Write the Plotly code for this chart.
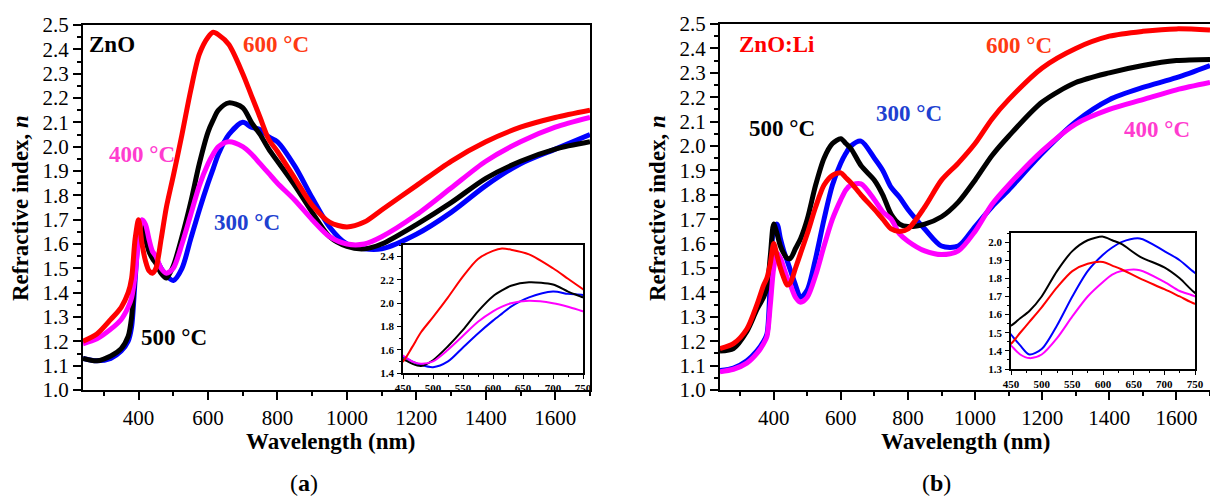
import plotly.graph_objects as go

# Wavelength grid (nm) shared by all curves
wavelength = [240, 280, 320, 350, 370, 380, 390, 400, 410, 420, 430, 440, 450, 465, 480,
              500, 525, 550, 575, 600, 615, 630, 660, 700, 725, 750, 775, 800, 850, 900,
              950, 1000, 1050, 1100, 1200, 1300, 1400, 1500, 1600, 1700]

# (a) ZnO refractive index
zno_300 = [1.13, 1.12, 1.13, 1.16, 1.20, 1.26, 1.45, 1.62, 1.66, 1.62, 1.58, 1.56, 1.54, 1.50, 1.47,
           1.45, 1.50, 1.62, 1.74, 1.85, 1.91, 1.97, 2.05, 2.10, 2.08, 2.07, 2.04, 2.02, 1.92, 1.79,
           1.67, 1.60, 1.58, 1.58, 1.64, 1.73, 1.84, 1.93, 1.99, 2.05]
zno_400 = [1.19, 1.21, 1.25, 1.29, 1.34, 1.38, 1.47, 1.62, 1.70, 1.68, 1.62, 1.57, 1.55, 1.50, 1.48,
           1.50, 1.60, 1.72, 1.84, 1.93, 1.97, 2.00, 2.02, 2.00, 1.97, 1.93, 1.89, 1.85, 1.78, 1.70,
           1.63, 1.60, 1.60, 1.63, 1.72, 1.83, 1.94, 2.02, 2.08, 2.12]
zno_500 = [1.13, 1.12, 1.14, 1.17, 1.22, 1.30, 1.50, 1.66, 1.68, 1.62, 1.57, 1.54, 1.52, 1.48, 1.46,
           1.51, 1.63, 1.77, 1.93, 2.06, 2.11, 2.15, 2.18, 2.16, 2.10, 2.05, 1.99, 1.94, 1.84, 1.73,
           1.63, 1.59, 1.58, 1.60, 1.68, 1.77, 1.87, 1.94, 1.99, 2.02]
zno_600 = [1.20, 1.23, 1.29, 1.34, 1.40, 1.46, 1.62, 1.70, 1.60, 1.53, 1.49, 1.48, 1.50, 1.62, 1.75,
           1.88, 2.05, 2.23, 2.38, 2.45, 2.47, 2.46, 2.42, 2.30, 2.21, 2.12, 2.03, 1.98, 1.87, 1.76,
           1.69, 1.67, 1.69, 1.74, 1.84, 1.94, 2.02, 2.08, 2.12, 2.15]

# (b) ZnO:Li refractive index
znoli_300 = [1.08, 1.09, 1.12, 1.16, 1.20, 1.23, 1.45, 1.66, 1.68, 1.62, 1.57, 1.53, 1.49, 1.43, 1.38,
             1.41, 1.54, 1.70, 1.84, 1.93, 1.97, 2.00, 2.02, 1.95, 1.90, 1.83, 1.79, 1.74, 1.66, 1.59,
             1.59, 1.67, 1.75, 1.82, 1.97, 2.10, 2.19, 2.24, 2.28, 2.33]
znoli_400 = [1.075, 1.085, 1.11, 1.15, 1.19, 1.22, 1.35, 1.50, 1.56, 1.54, 1.50, 1.46, 1.43, 1.38, 1.36,
             1.38, 1.47, 1.59, 1.70, 1.78, 1.82, 1.84, 1.845, 1.78, 1.73, 1.70, 1.64, 1.61, 1.57, 1.555,
             1.57, 1.65, 1.76, 1.84, 1.98, 2.09, 2.15, 2.19, 2.23, 2.26]
znoli_500 = [1.16, 1.17, 1.24, 1.33, 1.38, 1.42, 1.55, 1.68, 1.64, 1.59, 1.56, 1.54, 1.54, 1.58, 1.62,
             1.70, 1.84, 1.95, 2.01, 2.03, 2.01, 1.99, 1.92, 1.86, 1.80, 1.72, 1.68, 1.67, 1.68, 1.71,
             1.77, 1.86, 1.96, 2.04, 2.18, 2.26, 2.30, 2.33, 2.35, 2.355]
znoli_600 = [1.17, 1.19, 1.25, 1.35, 1.43, 1.46, 1.52, 1.60, 1.55, 1.50, 1.46, 1.43, 1.44, 1.50, 1.56,
             1.64, 1.75, 1.84, 1.88, 1.89, 1.87, 1.85, 1.80, 1.74, 1.70, 1.66, 1.65, 1.66, 1.75, 1.86,
             1.93, 2.01, 2.11, 2.19, 2.32, 2.40, 2.45, 2.47, 2.48, 2.475]

colors = {"300": "#0000ff", "400": "#ff00ff", "500": "#000000", "600": "#ff0000"}
label_colors = {"300": "#2040d0", "400": "#ff3ccf", "500": "#000000", "600": "#ff3a12"}

W, H = 1210, 497
SERIF = "Liberation Serif"


def px(x):
    return x / W


def py(y):
    return 1 - y / H


fig = go.Figure()

panels = [
    ("x", "y", "x2", "y2", {"300": zno_300, "400": zno_400, "500": zno_500, "600": zno_600}),
    ("x3", "y3", "x4", "y4", {"300": znoli_300, "400": znoli_400, "500": znoli_500, "600": znoli_600}),
]
for xm, ym, xi, yi, series in panels:
    for key in ["300", "500", "400", "600"]:
        fig.add_trace(go.Scatter(x=wavelength, y=series[key], xaxis=xm, yaxis=ym, mode="lines",
                                 line=dict(color=colors[key], width=5, shape="spline", smoothing=0.8),
                                 showlegend=False, hoverinfo="skip"))
        fig.add_trace(go.Scatter(x=wavelength, y=series[key], xaxis=xi, yaxis=yi, mode="lines",
                                 line=dict(color=colors[key], width=2, shape="spline", smoothing=0.8),
                                 showlegend=False, hoverinfo="skip"))

main_tick = dict(family=SERIF, size=21, color="black")
inset_tick = dict(family=SERIF, size=11, color="black", weight="bold")


def main_x(domain, anchor):
    return dict(domain=domain, anchor=anchor, range=[240, 1700], tick0=0, dtick=200,
                ticks="outside", ticklen=8, tickwidth=1.5, tickcolor="black",
                minor=dict(ticks="outside", ticklen=4, dtick=100, tick0=0, tickcolor="black"),
                showline=True, linewidth=2, linecolor="black", mirror=True, automargin=False,
                showgrid=False, zeroline=False, tickfont=main_tick, ticklabelstandoff=0)


def main_y(domain, anchor):
    return dict(domain=domain, anchor=anchor, range=[1.0, 2.5], tick0=0, dtick=0.1,
                tickformat=".1f", ticks="outside", ticklen=8, tickwidth=1.5, tickcolor="black",
                minor=dict(ticks="outside", ticklen=4, dtick=0.05, tick0=0, tickcolor="black"),
                showline=True, linewidth=2, linecolor="black", mirror=True, automargin=False,
                showgrid=False, zeroline=False, tickfont=main_tick)


def inset_x(domain, anchor):
    return dict(domain=domain, anchor=anchor, range=[450, 750], tick0=450, dtick=50,
                ticks="outside", ticklen=4, tickcolor="black",
                minor=dict(ticks="outside", ticklen=2, dtick=25, tick0=450, tickcolor="black"),
                showline=True, linewidth=1.5, linecolor="black", mirror=True, automargin=False,
                showgrid=False, zeroline=False, tickfont=inset_tick, ticklabelstandoff=0)


def inset_y(domain, anchor, rng, dtick):
    return dict(domain=domain, anchor=anchor, range=rng, tick0=0, dtick=dtick, tickformat=".1f",
                ticks="outside", ticklen=4, tickcolor="black",
                minor=dict(ticks="outside", ticklen=2, dtick=dtick / 2, tick0=0, tickcolor="black"),
                showline=True, linewidth=1.5, linecolor="black", mirror=True, automargin=False,
                showgrid=False, zeroline=False, tickfont=inset_tick, ticklabelstandoff=1)


fig.update_layout(
    width=W, height=H, autosize=False,
    margin=dict(l=0, r=0, t=0, b=0, pad=0, autoexpand=False),
    paper_bgcolor="white", plot_bgcolor="white",
    font=dict(family=SERIF, color="black"),
    xaxis=main_x([px(83), px(590)], "y"),
    yaxis=main_y([py(390), py(25)], "x"),
    xaxis2=inset_x([px(403), px(583)], "y2"),
    yaxis2=inset_y([py(373), py(245)], "x2", [1.4, 2.5], 0.2),
    xaxis3=main_x([px(720), 1.0], "y3"),
    yaxis3=main_y([py(390), py(24)], "x3"),
    xaxis4=inset_x([px(1011), px(1195)], "y4"),
    yaxis4=inset_y([py(369), py(233)], "x4", [1.3, 2.05], 0.1),
)

annotations = []


def label(text, x, y, color, size=23, angle=0):
    annotations.append(dict(text=text, x=px(x), y=py(y), xref="paper", yref="paper",
                            showarrow=False, textangle=angle, xanchor="center", yanchor="middle",
                            font=dict(family=SERIF, size=size, color=color)))


# axis titles
label("<b>Refractive index, <i>n</i></b>", 20, 208, "black", 23, -90)
label("<b>Wavelength (nm)</b>", 330, 441, "black", 23)
label("<b>Refractive index, <i>n</i></b>", 657, 208, "black", 23, -90)
label("<b>Wavelength (nm)</b>", 965, 441, "black", 23)
label("(<b>a</b>)", 304, 483, "black", 24)
label("(<b>b</b>)", 936, 483, "black", 24)

# panel (a) labels
label("<b>ZnO</b>", 112, 44, "black")
label("<b>600 °C</b>", 276, 44, label_colors["600"])
label("<b>400 °C</b>", 142, 154, label_colors["400"])
label("<b>300 °C</b>", 247, 222, label_colors["300"])
label("<b>500 °C</b>", 174, 337, label_colors["500"])

# panel (b) labels
label("<b>ZnO:Li</b>", 777, 44, "#ff0000")
label("<b>600 °C</b>", 1019, 45, label_colors["600"])
label("<b>300 °C</b>", 909, 114, label_colors["300"])
label("<b>500 °C</b>", 782, 128, label_colors["500"])
label("<b>400 °C</b>", 1157, 130, label_colors["400"])

fig.update_layout(annotations=annotations)

fig.write_html("out.html", post_script="document.body.style.margin='0px';")
